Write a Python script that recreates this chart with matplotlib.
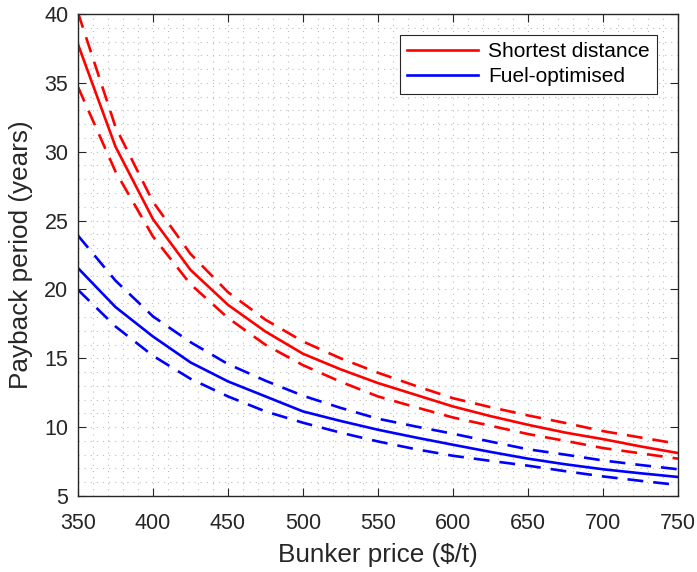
import matplotlib
matplotlib.use("Agg")
import matplotlib.pyplot as plt
from matplotlib.ticker import MultipleLocator

plt.rcParams['font.family'] = ['Liberation Sans', 'DejaVu Sans']

price = [350, 375, 400, 425, 450, 475, 500, 525, 550, 575, 600, 625, 650, 675, 700, 725, 750]

short_mid = [37.8, 30.37, 25.1, 21.42, 18.88, 16.94, 15.33, 14.2, 13.2, 12.35, 11.5, 10.8, 10.17, 9.6, 9.13, 8.6, 8.12]
short_hi = [40.1, 31.8, 26.36, 22.58, 19.8, 17.8, 16.22, 15.0, 13.95, 13.0, 12.1, 11.45, 10.85, 10.3, 9.71, 9.25, 8.79]
short_lo = [34.7, 28.56, 23.84, 20.38, 17.93, 15.98, 14.5, 13.3, 12.23, 11.45, 10.7, 10.1, 9.5, 9.0, 8.48, 8.1, 7.71]

fuel_mid = [21.55, 18.72, 16.58, 14.7, 13.32, 12.23, 11.14, 10.45, 9.81, 9.25, 8.72, 8.2, 7.71, 7.3, 6.94, 6.65, 6.38]
fuel_hi = [23.91, 20.64, 18.04, 16.17, 14.58, 13.37, 12.28, 11.4, 10.61, 10.05, 9.52, 8.95, 8.39, 8.0, 7.58, 7.25, 6.94]
fuel_lo = [19.97, 17.31, 15.18, 13.51, 12.23, 11.14, 10.32, 9.6, 8.96, 8.4, 7.92, 7.55, 7.2, 6.8, 6.42, 6.1, 5.8]

xticks = [350, 400, 450, 500, 550, 600, 650, 700, 750]
yticks = [5, 10, 15, 20, 25, 30, 35, 40]

fig = plt.figure(figsize=(6.97, 5.72), dpi=100)
ax = fig.add_axes([0.1119, 0.1329, 0.8608, 0.8426])

lw = 1.9
dash = (6, 3.8)
ax.plot(price, short_mid, color='#ff0000', lw=lw, label='Shortest distance')
ax.plot(price, short_hi, color='#ff0000', lw=lw, dashes=dash)
ax.plot(price, short_lo, color='#ff0000', lw=lw, dashes=dash)
ax.plot(price, fuel_mid, color='#0000ff', lw=lw, label='Fuel-optimised')
ax.plot(price, fuel_hi, color='#0000ff', lw=lw, dashes=dash)
ax.plot(price, fuel_lo, color='#0000ff', lw=lw, dashes=dash)

ax.set_xlim(350, 750)
ax.set_ylim(5, 40)
ax.set_xticks(xticks)
ax.set_yticks(yticks)
ax.xaxis.set_minor_locator(MultipleLocator(10))
ax.yaxis.set_minor_locator(MultipleLocator(1))

gridkw = dict(color='#bdbdbd', linestyle=(0, (1, 4.5)), linewidth=0.8)
ax.grid(True, which='both', **gridkw)
ax.set_axisbelow(True)

axcol = '#262626'
for s in ax.spines.values():
    s.set_color(axcol)
    s.set_linewidth(1.0)
ax.tick_params(which='major', direction='in', length=6, width=0.8, top=True, right=True,
               colors=axcol, labelsize=15.5)
ax.tick_params(axis='x', which='major', pad=12.5)
ax.tick_params(axis='y', which='major', pad=7)
ax.tick_params(which='minor', length=0, top=True, right=True)
for lab in ax.get_xticklabels() + ax.get_yticklabels():
    lab.set_color(axcol)

ax.set_xlabel('Bunker price ($/t)', fontsize=18.8, color=axcol, labelpad=6)
ax.set_ylabel('Payback period (years)', fontsize=18.8, color=axcol, labelpad=8)

leg = ax.legend(loc='upper right', fontsize=15, frameon=True, fancybox=False,
                framealpha=1, edgecolor=axcol, handlelength=3.4, borderpad=0.35,
                labelspacing=0.3, handletextpad=0.5, borderaxespad=1.0)
leg.get_frame().set_linewidth(0.8)

fig.savefig('out.png', dpi=100)
